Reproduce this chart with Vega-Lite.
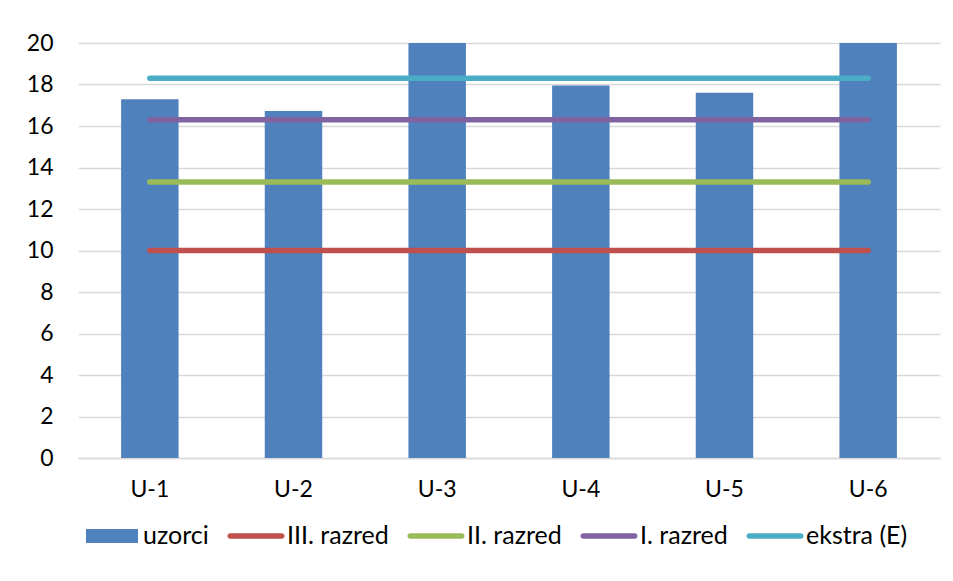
{
  "$schema": "https://vega.github.io/schema/vega-lite/v6.json",
  "autosize": "none",
  "width": 862,
  "height": 415,
  "padding": {"left": 78, "top": 43, "right": 13, "bottom": 123},
  "background": "white",
  "config": {
    "font": "Lato",
    "view": {"stroke": null},
    "axis": {"labelFont": "Lato", "labelFontSize": 23, "labelColor": "#000000", "gridColor": "#d9d9d9", "gridWidth": 1.3, "ticks": false, "title": null},
    "legend": {"labelFont": "Lato", "labelFontSize": 25, "labelColor": "#000000"}
  },
  "layer": [
    {
      "data": {"values": [
        {"uzorak": "U-1", "vrijednost": 17.29, "series": "uzorci"},
        {"uzorak": "U-2", "vrijednost": 16.72, "series": "uzorci"},
        {"uzorak": "U-3", "vrijednost": 20, "series": "uzorci"},
        {"uzorak": "U-4", "vrijednost": 17.95, "series": "uzorci"},
        {"uzorak": "U-5", "vrijednost": 17.6, "series": "uzorci"},
        {"uzorak": "U-6", "vrijednost": 20, "series": "uzorci"}
      ]},
      "mark": {"type": "bar"},
      "encoding": {
        "x": {"field": "uzorak", "type": "nominal", "sort": null,
          "scale": {"paddingInner": 0.6, "paddingOuter": 0.3},
          "axis": {"labelAngle": 0, "labelPadding": 20, "domainColor": "#d9d9d9", "domainWidth": 1.3, "grid": false}},
        "y": {"field": "vrijednost", "type": "quantitative",
          "scale": {"domain": [0, 20], "nice": false},
          "axis": {"values": [0,2,4,6,8,10,12,14,16,18,20], "domain": false, "labelPadding": 25}},
        "color": {"field": "series", "type": "nominal",
          "scale": {"domain": ["uzorci", "III. razred", "II. razred", "I. razred", "ekstra (E)"],
                    "range": ["#4f81bd", "#c0504d", "#9bbb59", "#8064a2", "#4bacc6"]},
          "legend": {
            "title": null, "orient": "none", "direction": "horizontal", "legendX": 6, "legendY": 465,
            "padding": 0, "columnPadding": 18, "labelOffset": 3, "gridAlign": "none", "symbolSize": 3136,
            "encode": {"symbols": {"update": {
              "shape": {"signal": "datum.value === 'uzorci' ? 'M-0.93,-0.25H0.93V0.25H-0.93Z' : 'M-0.92,-0.1H0.92A0.1,0.1,0,0,1,0.92,0.1H-0.92A0.1,0.1,0,0,1,-0.92,-0.1Z'"},
              "fill": {"signal": "scale('color', datum.value)"},
              "strokeWidth": {"value": 0},
              "opacity": {"value": 1}
            }}}
          }}
      }
    },
    {
      "data": {"values": [
        {"uzorak": "U-1", "vrijednost": 10, "series": "III. razred"},
        {"uzorak": "U-2", "vrijednost": 10, "series": "III. razred"},
        {"uzorak": "U-3", "vrijednost": 10, "series": "III. razred"},
        {"uzorak": "U-4", "vrijednost": 10, "series": "III. razred"},
        {"uzorak": "U-5", "vrijednost": 10, "series": "III. razred"},
        {"uzorak": "U-6", "vrijednost": 10, "series": "III. razred"},
        {"uzorak": "U-1", "vrijednost": 13.3, "series": "II. razred"},
        {"uzorak": "U-2", "vrijednost": 13.3, "series": "II. razred"},
        {"uzorak": "U-3", "vrijednost": 13.3, "series": "II. razred"},
        {"uzorak": "U-4", "vrijednost": 13.3, "series": "II. razred"},
        {"uzorak": "U-5", "vrijednost": 13.3, "series": "II. razred"},
        {"uzorak": "U-6", "vrijednost": 13.3, "series": "II. razred"},
        {"uzorak": "U-1", "vrijednost": 16.3, "series": "I. razred"},
        {"uzorak": "U-2", "vrijednost": 16.3, "series": "I. razred"},
        {"uzorak": "U-3", "vrijednost": 16.3, "series": "I. razred"},
        {"uzorak": "U-4", "vrijednost": 16.3, "series": "I. razred"},
        {"uzorak": "U-5", "vrijednost": 16.3, "series": "I. razred"},
        {"uzorak": "U-6", "vrijednost": 16.3, "series": "I. razred"},
        {"uzorak": "U-1", "vrijednost": 18.3, "series": "ekstra (E)"},
        {"uzorak": "U-2", "vrijednost": 18.3, "series": "ekstra (E)"},
        {"uzorak": "U-3", "vrijednost": 18.3, "series": "ekstra (E)"},
        {"uzorak": "U-4", "vrijednost": 18.3, "series": "ekstra (E)"},
        {"uzorak": "U-5", "vrijednost": 18.3, "series": "ekstra (E)"},
        {"uzorak": "U-6", "vrijednost": 18.3, "series": "ekstra (E)"}
      ]},
      "mark": {"type": "line", "strokeWidth": 5.5, "strokeCap": "round"},
      "encoding": {
        "x": {"field": "uzorak", "type": "nominal", "sort": null},
        "y": {"field": "vrijednost", "type": "quantitative"},
        "color": {"field": "series", "type": "nominal"}
      }
    }
  ]
}
